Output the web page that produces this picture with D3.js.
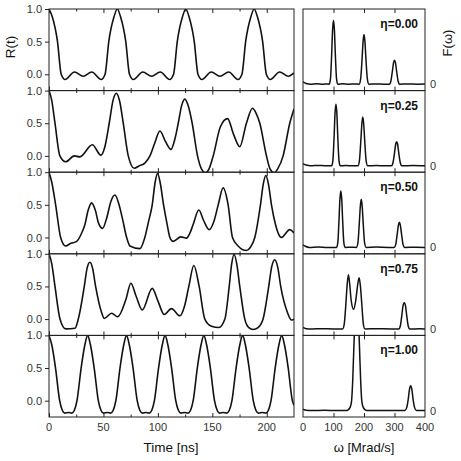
<!DOCTYPE html>
<html>
<head>
<meta charset="utf-8">
<script src="https://cdn.jsdelivr.net/npm/d3@7"></script>
<style>
body{margin:0;background:#fff}
text{font-family:Arial,"Liberation Sans",sans-serif}
</style>
</head>
<body>
<div id="chart"></div>
<script>

// data
// ----------------------------------------

var etaLabels = ["η=0.00", "η=0.25", "η=0.50", "η=0.75", "η=1.00"];
var timeTicks = [0, 50, 100, 150, 200];
var timeMinor = [25, 75, 125, 175];
var omegaTicks = [0, 100, 200, 300, 400];
var omegaInner = [100, 200, 300];
var rTicks = [0.0, 0.5, 1.0];

// R(t), [t ns, R]
var r000 = [[0,1],[3,0.88],[7.8,0.5],[11.2,0],[14.8,-0.08],[23.4,0.035],[31.4,-0.03],[39.3,0.035],[47.9,-0.08],[51.5,0],[54.9,0.5],[59.7,0.88],[62.7,1],
	[65.7,0.88],[70.5,0.5],[73.9,0],[77.5,-0.08],[86.1,0.035],[94.2,-0.03],[102.2,0.035],[110.8,-0.08],[114.4,0],[117.8,0.5],[122.6,0.88],[125.6,1],
	[128.6,0.88],[133.4,0.5],[136.8,0],[140.4,-0.08],[149,0.035],[157,-0.03],[165,0.035],[173.6,-0.08],[177.2,0],[180.6,0.5],[185.4,0.88],[188.4,1],
	[191.4,0.88],[196.2,0.5],[199.6,0],[203.2,-0.08],[211.8,0.035],[219.8,-0.03],[225,0.02]];

var r025 = [[0,1],[2.5,0.85],[5.5,0.5],[10,0],[15.3,-0.09],[23.2,0],[28.4,-0.015],[39.8,0.17],[47.7,0.01],[51,0.12],[55.3,0.5],[58.8,0.85],[61.8,0.96],
	[65,0.83],[68.2,0.5],[72.8,0],[78.3,-0.19],[83,-0.15],[88,-0.11],[92.7,0],[97.2,0.2],[101.8,0.38],[107,0.22],[112,0.1],[115.5,0.25],[118.7,0.5],
	[121.8,0.77],[124.8,0.87],[128,0.76],[131.5,0.5],[136.4,0],[140,-0.2],[143.5,-0.26],[147,-0.2],[150.8,0],[157.5,0.45],[164,0.57],[169.5,0.33],
	[175.2,0.14],[181.3,0.5],[186.9,0.73],[190,0.66],[193.6,0.5],[199.7,0],[203,-0.2],[206.7,-0.26],[210,-0.2],[215,0],[221.1,0.5],[225,0.72]];

var r050 = [[0,1],[2.5,0.85],[6.1,0.5],[10.7,0],[15.3,-0.13],[20,-0.09],[25.4,-0.06],[29.5,0.05],[33,0.2],[36,0.42],[39.1,0.53],[42.5,0.42],[45.5,0.22],
	[49.2,0.14],[53,0.3],[57,0.56],[60.6,0.65],[64,0.52],[67.3,0.3],[71.3,0],[74.3,-0.13],[83.5,-0.17],[88,0],[91.5,0.25],[94.8,0.5],[97.5,0.85],
	[99.7,0.98],[102,0.85],[105.2,0.5],[108.5,0.2],[111,0],[114,-0.06],[121.1,0.01],[126.3,-0.01],[129.5,0.07],[132.4,0.2],[137.6,0.42],[142,0.26],
	[147.1,0.12],[151.5,0.25],[155.4,0.5],[159.9,0.76],[164.5,0.5],[168.5,0],[173.7,-0.13],[181.3,-0.2],[185,-0.15],[189,0],[194.2,0.5],[196.8,0.82],
	[199.1,0.95],[201.5,0.82],[204.3,0.5],[208,0.2],[211.9,0.02],[213.5,0],[221.1,0.12],[225,0.07]];

var r075 = [[0,1],[2.5,0.85],[5.5,0.5],[10.1,0],[15.3,-0.15],[23.9,-0.14],[26.9,0],[32.4,0.5],[35,0.78],[37.6,0.87],[40,0.78],[42.8,0.5],[48.3,0.1],
	[50.8,0.01],[57.5,0.09],[63,0.035],[70.6,0.3],[75.2,0.55],[80,0.35],[85.6,0.14],[94.8,0.47],[100,0.28],[105.8,0.07],[112.5,0.16],[120.2,0.05],
	[124.5,0.2],[128.4,0.5],[133,0.82],[137.9,0.5],[143.1,0],[149.2,-0.11],[156,-0.13],[161.5,0],[165.5,0.5],[167.8,0.85],[170,0.99],[172.4,0.85],
	[175.2,0.5],[179.8,0],[183.5,-0.13],[187.5,-0.16],[192,-0.13],[196.6,0],[201.8,0.5],[204.5,0.8],[207.3,0.91],[210,0.8],[212.8,0.5],[219,0.1],
	[222.7,-0.015],[225,0]];

var r100 = [[0,1],[2.5,0.86],[6,0.5],[9.8,0],[12.3,-0.15],[14.5,-0.19],[17.8,-0.18],[21,-0.19],[23.2,-0.15],[25.7,0],[29.5,0.5],[33,0.86],[35.5,1],
	[38,0.86],[41.5,0.5],[45.3,0],[47.8,-0.15],[50,-0.19],[53.4,-0.18],[56.7,-0.19],[58.9,-0.15],[61.4,0],[65.2,0.5],[68.7,0.86],[71.2,1],
	[73.7,0.86],[77.2,0.5],[81,0],[83.5,-0.15],[85.7,-0.19],[88.9,-0.18],[92.1,-0.19],[94.3,-0.15],[96.8,0],[100.6,0.5],[104.1,0.86],[106.6,1],
	[109.1,0.86],[112.6,0.5],[116.4,0],[118.9,-0.15],[121.1,-0.19],[124.4,-0.18],[127.7,-0.19],[129.9,-0.15],[132.4,0],[136.2,0.5],[139.7,0.86],[142.2,1],
	[144.7,0.86],[148.2,0.5],[152,0],[154.5,-0.15],[156.7,-0.19],[160,-0.18],[163.3,-0.19],[165.5,-0.15],[168,0],[171.8,0.5],[175.3,0.86],[177.8,1],
	[180.3,0.86],[183.8,0.5],[187.6,0],[190.1,-0.15],[192.3,-0.19],[195.8,-0.18],[199.2,-0.19],[201.4,-0.15],[203.9,0],[207.7,0.5],[211.2,0.86],[213.7,1],
	[216.2,0.86],[219.7,0.5],[223.5,0],[225,-0.07]];

// F(omega), [omega Mrad/s, F]
var f000 = [[0,0.03],[10,0.01],[25,0],[45,0.006],[65,0],[80,0.004],[86,0],[90,0.07],[94,0.4],[97,0.72],[100,0.85],[103,0.72],[106,0.4],[110,0.07],
	[114,0],[130,0.005],[150,0],[170,0.004],[184,0],[189,0.07],[194,0.36],[197,0.57],[200,0.66],[203,0.57],[206,0.36],[211,0.07],[216,0],[240,0.004],
	[265,0],[283,0],[288,0.04],[293,0.17],[297,0.29],[300,0.32],[303,0.29],[307,0.17],[312,0.04],[317,0],[345,0.004],[375,0],[400,0.002]];

var f025 = [[0,0.03],[10,0.01],[25,0],[50,0.005],[75,0],[94,0],[98,0.07],[102,0.39],[105,0.7],[108,0.82],[111,0.7],[114,0.39],[118,0.07],[122,0],
	[140,0.004],[165,0],[180,0],[185,0.07],[190,0.36],[193,0.56],[196,0.65],[199,0.56],[202,0.36],[207,0.07],[212,0],[240,0.004],[270,0],[290,0],
	[295,0.04],[300,0.17],[304,0.29],[307,0.32],[310,0.29],[314,0.17],[319,0.04],[324,0],[360,0.003],[400,0]];

var f050 = [[0,0.035],[8,0.015],[20,0],[50,0.005],[80,0],[110,0],[114,0.06],[118,0.36],[121,0.64],[124,0.75],[127,0.64],[130,0.36],[134,0.06],[138,0],
	[160,0.003],[175,0],[180,0.06],[185,0.35],[188,0.55],[191,0.64],[194,0.55],[197,0.35],[202,0.06],[207,0],[240,0.004],[280,0],[299,0],[304,0.04],
	[309,0.18],[313,0.3],[316,0.335],[319,0.3],[323,0.18],[328,0.04],[333,0],[370,0.003],[400,0]];

var f075 = [[0,0.02],[10,0.005],[30,0],[60,0.004],[100,0],[130,0],[135,0.06],[140,0.3],[145,0.6],[149,0.72],[153,0.6],[158,0.38],[166,0.26],[173,0.38],
	[179,0.58],[184,0.68],[188,0.58],[193,0.32],[198,0.06],[203,0],[240,0.004],[290,0],[314,0],[319,0.04],[324,0.18],[328,0.31],[332,0.35],[336,0.31],
	[340,0.18],[345,0.04],[350,0],[380,0.003],[400,0]];

var f100 = [[0,0.02],[10,0.005],[30,0],[70,0.004],[110,0],[140,0],[148,0.01],[154,0.04],[159,0.12],[163,0.4],[166,0.75],[169,1.1],[176,1.5],[183,1.1],
	[186,0.75],[189,0.4],[193,0.12],[198,0.04],[204,0.01],[212,0],[260,0.003],[320,0],[334,0],[340,0.04],[345,0.15],[349,0.28],[353,0.33],[357,0.28],
	[361,0.15],[366,0.04],[372,0],[400,0]];

var rSeries = [r000, r025, r050, r075, r100];
var fSeries = [f000, f025, f050, f075, f100];

// layout
// ----------------------------------------

var width = 461, height = 461;
var top0 = 9, rowH = 81.6;
var lx0 = 49, lx1 = 294, rx0 = 303, rx1 = 425;
var tickCol = "#333", frameCol = "#222";

var svg = d3.select("#chart")
	.append("svg")
	.attr("width", width)
	.attr("height", height);

var xT = d3.scaleLinear().domain([0, 225]).range([lx0, lx1]);
var xW = d3.scaleLinear().domain([0, 400]).range([rx0, rx1]);

function inner(g, axis){
	g.call(axis);
	g.select(".domain").remove();
	g.selectAll(".tick line").attr("stroke", frameCol);
	g.selectAll(".tick text").remove();
}

rSeries.forEach(function(data, i){
	var y0 = top0 + i * rowH, y1 = y0 + rowH;
	var yR = d3.scaleLinear().domain([-0.25, 1]).range([y1, y0]);
	var yF = d3.scaleLinear().domain([-0.085, 1]).range([y1, y0]);

	// clip paths
	svg.append("clipPath").attr("id", "cl" + i)
		.append("rect").attr("x", lx0).attr("y", y0).attr("width", lx1 - lx0).attr("height", rowH);
	svg.append("clipPath").attr("id", "cr" + i)
		.append("rect").attr("x", rx0).attr("y", y0).attr("width", rx1 - rx0).attr("height", rowH);

	// curves
	var lineR = d3.line()
		.x(function(d){ return xT(d[0]); })
		.y(function(d){ return yR(d[1]); })
		.curve(d3.curveMonotoneX);
	svg.append("path")
		.datum(data)
		.attr("clip-path", "url(#cl" + i + ")")
		.attr("d", lineR)
		.attr("fill", "none")
		.attr("stroke", "#111")
		.attr("stroke-width", 1.6);

	var lineF = d3.line()
		.x(function(d){ return xW(d[0]); })
		.y(function(d){ return yF(d[1]); })
		.curve(d3.curveMonotoneX);
	svg.append("path")
		.datum(fSeries[i])
		.attr("clip-path", "url(#cr" + i + ")")
		.attr("d", lineF)
		.attr("fill", "none")
		.attr("stroke", "#111")
		.attr("stroke-width", 1.5);

	// frames
	svg.append("rect").attr("x", lx0).attr("y", y0).attr("width", lx1 - lx0).attr("height", rowH)
		.attr("fill", "none").attr("stroke", frameCol).attr("stroke-width", 1);
	svg.append("rect").attr("x", rx0).attr("y", y0).attr("width", rx1 - rx0).attr("height", rowH)
		.attr("fill", "none").attr("stroke", frameCol).attr("stroke-width", 1);

	// inward ticks, left panel
	inner(svg.append("g").attr("transform", "translate(0," + y0 + ")"),
		d3.axisTop(xT).tickValues(timeTicks).tickSize(-4));
	inner(svg.append("g").attr("transform", "translate(0," + y0 + ")"),
		d3.axisTop(xT).tickValues(timeMinor).tickSize(-2.5));
	inner(svg.append("g").attr("transform", "translate(0," + y1 + ")"),
		d3.axisBottom(xT).tickValues(timeTicks).tickSize(-4));
	inner(svg.append("g").attr("transform", "translate(0," + y1 + ")"),
		d3.axisBottom(xT).tickValues(timeMinor).tickSize(-2.5));

	// inward ticks, right panel
	inner(svg.append("g").attr("transform", "translate(0," + y0 + ")"),
		d3.axisTop(xW).tickValues(omegaInner).tickSize(-4));
	inner(svg.append("g").attr("transform", "translate(0," + y1 + ")"),
		d3.axisBottom(xW).tickValues(omegaInner).tickSize(-4));

	// y axis of R(t)
	var ya = svg.append("g")
		.attr("transform", "translate(" + lx0 + ",0)")
		.call(d3.axisLeft(yR).tickValues(rTicks).tickSize(4).tickPadding(3).tickFormat(d3.format(".1f")));
	ya.select(".domain").remove();
	ya.selectAll(".tick line").attr("stroke", frameCol);
	ya.selectAll(".tick text")
		.attr("fill", tickCol)
		.style("font-size", "11px")
		.style("font-family", "Arial, 'Liberation Sans', sans-serif");

	// zero label of F
	svg.append("text")
		.attr("x", rx1 + 5)
		.attr("y", yF(0) + 4)
		.attr("fill", tickCol)
		.style("font-size", "11px")
		.text("0");

	// eta label
	svg.append("text")
		.attr("x", 418)
		.attr("y", y0 + 19)
		.attr("text-anchor", "end")
		.attr("fill", "#111")
		.style("font-size", "12px")
		.style("font-weight", "bold")
		.text(etaLabels[i]);
});

// bottom tick labels
var yBottom = top0 + 5 * rowH;

svg.append("g").selectAll("text")
	.data(timeTicks)
	.enter()
	.append("text")
	.attr("x", function(d){ return xT(d); })
	.attr("y", yBottom + 14)
	.attr("text-anchor", "middle")
	.attr("fill", tickCol)
	.style("font-size", "11px")
	.text(function(d){ return d; });

svg.append("g").selectAll("text")
	.data(omegaTicks)
	.enter()
	.append("text")
	.attr("x", function(d){ return xW(d); })
	.attr("y", yBottom + 14)
	.attr("text-anchor", "middle")
	.attr("fill", tickCol)
	.style("font-size", "11px")
	.text(function(d){ return d; });

// axis titles
svg.append("text")
	.attr("x", 171).attr("y", 452)
	.attr("text-anchor", "middle")
	.attr("fill", "#111")
	.style("font-size", "13.5px")
	.text("Time [ns]");

svg.append("text")
	.attr("x", 364).attr("y", 452)
	.attr("text-anchor", "middle")
	.attr("fill", "#111")
	.style("font-size", "13px")
	.text("ω [Mrad/s]");

svg.append("text")
	.attr("transform", "translate(15,47) rotate(-90)")
	.attr("text-anchor", "middle")
	.attr("fill", "#111")
	.style("font-size", "13.5px")
	.text("R(t)");

svg.append("text")
	.attr("transform", "translate(452,43) rotate(-90)")
	.attr("text-anchor", "middle")
	.attr("fill", "#111")
	.style("font-size", "13px")
	.text("F(ω)");

</script>
</body>
</html>
